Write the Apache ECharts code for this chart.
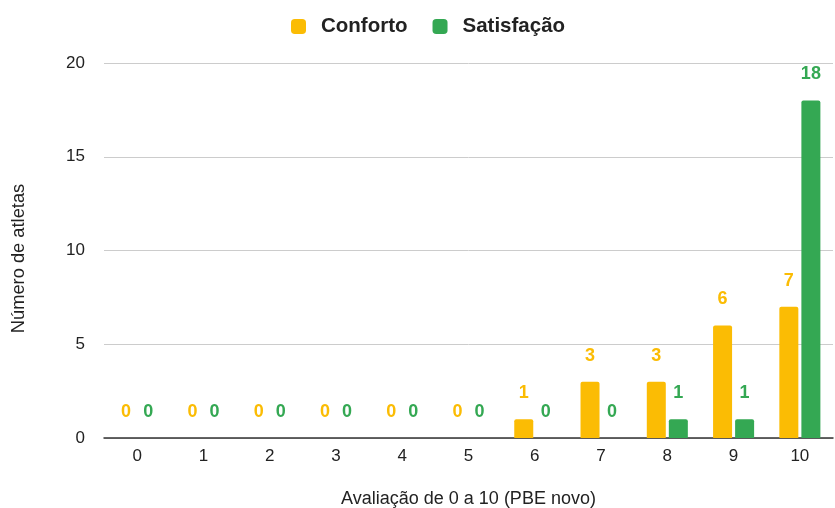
<!DOCTYPE html>
<html>
<head>
<meta charset="utf-8">
<script src="https://cdn.jsdelivr.net/npm/echarts@6/dist/echarts.min.js"></script>
<style>html,body{margin:0;padding:0;background:#fff;}#c{width:835px;height:508px;}</style>
</head>
<body>
<div id="c"></div>
<script>
const categories = ['0','1','2','3','4','5','6','7','8','9','10'];
const conforto = [0,0,0,0,0,0,1,3,3,6,7];
const satisfacao = [0,0,0,0,0,0,0,0,1,1,18];
const seriesNames = ['Conforto','Satisfação'];
const yTicks = {min:0, max:20, interval:5};

const chart = echarts.init(document.getElementById('c'));
const font = 'Arial, "Liberation Sans", sans-serif';
function labelFor(color){
  return {show:true, position:'top', distance:17, color:color, fontWeight:'bold', fontSize:18, fontFamily:font};
}
chart.setOption({
  animation:false,
  textStyle:{fontFamily:font},
  legend:{
    top:11, left:286, itemWidth:15, itemHeight:15, itemGap:25,
    icon:'roundRect',
    textStyle:{fontSize:20.5, fontWeight:'bold', color:'#222', fontFamily:font, padding:[0,0,0,10]},
    data:seriesNames
  },
  grid:{left:104, right:2, top:63, bottom:70, outerBoundsMode:'none', containLabel:false},
  xAxis:{
    type:'category', data:categories,
    name:'Avaliação de 0 a 10 (PBE novo)', nameLocation:'middle', nameGap:52,
    nameTextStyle:{fontSize:18, color:'#222', fontFamily:font},
    axisLine:{lineStyle:{color:'#333', width:1.5}},
    axisTick:{show:false},
    axisLabel:{fontSize:17, color:'#222', margin:10}
  },
  yAxis:{
    type:'value', min:yTicks.min, max:yTicks.max, interval:yTicks.interval,
    name:'Número de atletas', nameLocation:'middle', nameGap:76,
    nameTextStyle:{fontSize:18.3, color:'#222', fontFamily:font, padding:[0,16,0,0]},
    axisLabel:{fontSize:17, color:'#222', margin:19},
    splitLine:{lineStyle:{color:'#ccc'}},
    axisLine:{show:false}, axisTick:{show:false}
  },
  series:[
    {name:seriesNames[0], type:'bar', data:conforto, barWidth:19, barGap:'16%',
     itemStyle:{color:'#FBBC04', borderRadius:[2,2,0,0]}, label:labelFor('#FBBC04')},
    {name:seriesNames[1], type:'bar', data:satisfacao, barWidth:19,
     itemStyle:{color:'#34A853', borderRadius:[2,2,0,0]}, label:labelFor('#34A853')}
  ]
});
</script>
</body>
</html>
